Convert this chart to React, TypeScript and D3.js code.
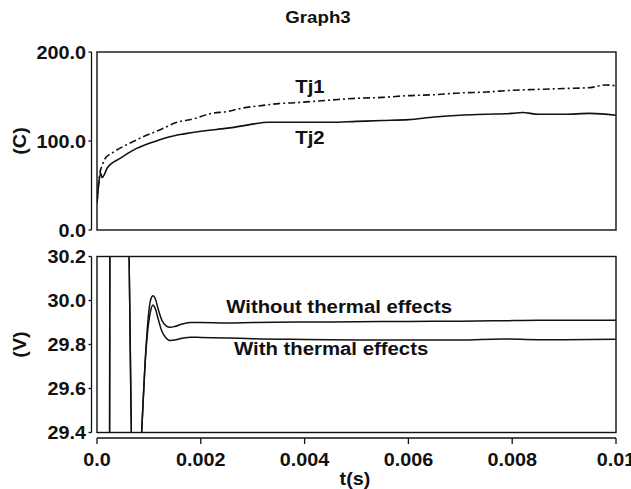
import React from "react";
import * as d3 from "d3";

const titleText = "Graph3";
const xTicks = [0, 0.002, 0.004, 0.006, 0.008, 0.01];
const xTickLabels = ["0.0", "0.002", "0.004", "0.006", "0.008", "0.01"];
const tempTicks = [0, 100, 200];
const tempTickLabels = ["0.0", "100.0", "200.0"];
const voltTicks = [29.4, 29.6, 29.8, 30.0, 30.2];
const voltTickLabels = ["29.4", "29.6", "29.8", "30.0", "30.2"];

const tj1Time = [0, 0.00003, 0.00007, 0.0001, 0.00014, 0.00033, 0.00058, 0.0009, 0.00123, 0.00154, 0.00187, 0.0022, 0.0025, 0.0028, 0.0032, 0.0035, 0.0038, 0.0045, 0.005, 0.0055, 0.006, 0.0065, 0.007, 0.0075, 0.008, 0.0085, 0.009, 0.0095, 0.0098, 0.01];
const tj1Temp = [30, 52, 68, 72, 79, 88, 96, 105, 113, 121, 125, 131, 133, 137, 140, 142, 143, 146, 148, 149, 151, 152, 154, 155, 157, 158, 159, 160, 163, 162];

const tj2Time = [0, 0.00003, 0.00007, 0.0001, 0.0002, 0.00046, 0.00071, 0.00104, 0.00135, 0.00168, 0.002, 0.0023, 0.0026, 0.003, 0.0033, 0.0038, 0.0045, 0.005, 0.0055, 0.006, 0.0065, 0.007, 0.0075, 0.008, 0.0082, 0.0085, 0.009, 0.0095, 0.01];
const tj2Temp = [30, 50, 64, 59, 70, 81, 90, 98, 104, 108, 111, 113, 115, 119, 121, 121, 121, 122, 123, 124, 127, 129, 130, 131, 132, 130, 130, 131, 129];

const vTime = [0, 0.00024, 0.00025, 0.00058, 0.0007, 0.00077, 0.00086, 0.00094, 0.00099, 0.00103, 0.00108, 0.00112, 0.00118, 0.00125, 0.00133, 0.00141, 0.0015, 0.0016, 0.0017, 0.0018, 0.002, 0.0025, 0.003, 0.004, 0.005, 0.006, 0.007, 0.0078, 0.0085, 0.009, 0.01];
const vWithout = [29.0, 29.0, 30.6, 30.6, 29.0, 29.0, 29.4, 29.77, 29.93, 30.0, 30.022, 30.01, 29.96, 29.91, 29.885, 29.878, 29.882, 29.89, 29.897, 29.9, 29.9, 29.898, 29.9, 29.902, 29.903, 29.905, 29.906, 29.908, 29.91, 29.91, 29.91];
const vWith = [29.0, 29.0, 30.6, 30.6, 29.0, 29.0, 29.4, 29.76, 29.89, 29.95, 29.98, 29.965, 29.915, 29.86, 29.83, 29.818, 29.82, 29.826, 29.831, 29.833, 29.832, 29.83, 29.826, 29.823, 29.821, 29.82, 29.82, 29.825, 29.822, 29.822, 29.824];

const tempLabels = ["Tj1", "Tj2"];
const tempLabelT = [0.00382, 0.00382];
const tempLabelV = [154, 97];
const voltLabels = ["Without thermal effects", "With thermal effects"];
const voltLabelT = [0.00249, 0.00264];
const voltLabelV = [29.943, 29.752];

const W = 631;
const H = 489;
const FONT = "'Liberation Sans', Arial, Helvetica, sans-serif";
const INK = "#111";

function Txt(props: { x: number; y: number; size: number; anchor?: string; sx?: number; rotate?: number; children: React.ReactNode }) {
  const { x, y, size, anchor = "start", sx = 1.1, rotate = 0, children } = props;
  return (
    <text
      transform={`translate(${x},${y}) rotate(${rotate}) scale(${sx},1)`}
      textAnchor={anchor}
      fontWeight="bold"
      fontSize={size}
      fill={INK}
    >
      {children}
    </text>
  );
}

export default function App() {
  const x = d3.scaleLinear().domain([0, 0.01]).range([97, 616]);
  const yT = d3.scaleLinear().domain([0, 200]).range([230, 52]);
  const yV = d3.scaleLinear().domain([29.4, 30.2]).range([432.5, 256.5]);

  const lineTj1 = d3.line<number>().x((_, i) => x(tj1Time[i])).y((d) => yT(d)).curve(d3.curveMonotoneX);
  const lineTj2 = d3.line<number>().x((_, i) => x(tj2Time[i])).y((d) => yT(d)).curve(d3.curveMonotoneX);
  const lineV = d3.line<number>().x((_, i) => x(vTime[i])).y((d) => yV(d)).curve(d3.curveMonotoneX);

  const axisX = 91.5;
  const xAxisY = 438;

  return (
    <svg width={W} height={H} style={{ position: "absolute", left: 0, top: 0, background: "#fff" }} fontFamily={FONT}>
      <defs>
        <clipPath id="clipT">
          <rect x={x(0)} y={yT(200)} width={x(0.01) - x(0)} height={yT(0) - yT(200)} />
        </clipPath>
        <clipPath id="clipV">
          <rect x={x(0)} y={yV(30.2)} width={x(0.01) - x(0)} height={yV(29.4) - yV(30.2)} />
        </clipPath>
      </defs>
      <rect x={0} y={0} width={W} height={H} fill="#fff" />
      <Txt x={318} y={23} size={17} anchor="middle">{titleText}</Txt>

      {/* Top panel */}
      <rect x={x(0)} y={yT(200)} width={x(0.01) - x(0)} height={yT(0) - yT(200)} fill="none" stroke={INK} strokeWidth={1.4} />
      <line x1={axisX} x2={axisX} y1={yT(200)} y2={yT(0)} stroke={INK} strokeWidth={1.3} />
      {tempTicks.map((v, i) => (
        <g key={"tt" + i}>
          <line x1={axisX - 3} x2={axisX} y1={yT(v)} y2={yT(v)} stroke={INK} strokeWidth={1.3} />
          <Txt x={axisX - 5.5} y={yT(v) + 6.5} size={18} anchor="end">{tempTickLabels[i]}</Txt>
        </g>
      ))}
      <g clipPath="url(#clipT)" fill="none" stroke={INK} strokeWidth={1.6}>
        <path d={lineTj1(tj1Temp) || ""} strokeDasharray="7,3,2,3" />
        <path d={lineTj2(tj2Temp) || ""} />
      </g>
      {tempLabels.map((s, i) => (
        <Txt key={"tl" + i} x={x(tempLabelT[i])} y={yT(tempLabelV[i])} size={18.5}>{s}</Txt>
      ))}
      <Txt x={26} y={yT(100)} size={18} anchor="middle" rotate={-90}>(C)</Txt>

      {/* Bottom panel */}
      <rect x={x(0)} y={yV(30.2)} width={x(0.01) - x(0)} height={yV(29.4) - yV(30.2)} fill="none" stroke={INK} strokeWidth={1.4} />
      <line x1={axisX} x2={axisX} y1={yV(30.2)} y2={yV(29.4)} stroke={INK} strokeWidth={1.3} />
      {voltTicks.map((v, i) => (
        <g key={"vt" + i}>
          <line x1={axisX - 3} x2={axisX} y1={yV(v)} y2={yV(v)} stroke={INK} strokeWidth={1.3} />
          <Txt x={axisX - 5.5} y={yV(v) + 6.5} size={18} anchor="end">{voltTickLabels[i]}</Txt>
        </g>
      ))}
      <g clipPath="url(#clipV)" fill="none" stroke={INK} strokeWidth={1.5}>
        <path d={lineV(vWithout) || ""} />
        <path d={lineV(vWith) || ""} />
      </g>
      {voltLabels.map((s, i) => (
        <Txt key={"vl" + i} x={x(voltLabelT[i])} y={yV(voltLabelV[i])} size={18.5}>{s}</Txt>
      ))}
      <Txt x={26} y={yV(29.8)} size={18} anchor="middle" rotate={-90}>(V)</Txt>

      {/* X axis */}
      <line x1={x(0)} x2={x(0.01)} y1={xAxisY} y2={xAxisY} stroke={INK} strokeWidth={1.3} />
      {xTicks.map((v, i) => (
        <g key={"xt" + i}>
          <line x1={x(v)} x2={x(v)} y1={xAxisY} y2={xAxisY + 6} stroke={INK} strokeWidth={1.3} />
          <Txt x={x(v)} y={466} size={18} anchor="middle">{xTickLabels[i]}</Txt>
        </g>
      ))}
      <Txt x={355} y={485} size={18} anchor="middle">t(s)</Txt>
    </svg>
  );
}
